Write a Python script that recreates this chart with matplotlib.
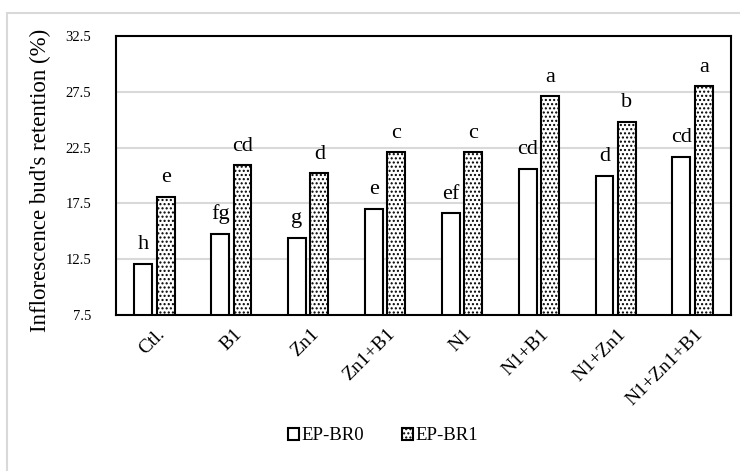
import matplotlib.pyplot as plt
import numpy as np
from matplotlib.patches import Rectangle, Patch

plt.rcParams['font.family'] = ['Liberation Serif', 'DejaVu Serif']
plt.rcParams['hatch.linewidth'] = 1.0

treatments = ['Ctl.', 'B1', 'Zn1', 'Zn1+B1', 'N1', 'N1+B1', 'N1+Zn1', 'N1+Zn1+B1']
br0 = [12.1, 14.8, 14.4, 17.0, 16.6, 20.6, 20.0, 21.7]
br1 = [18.1, 20.9, 20.2, 22.1, 22.1, 27.1, 24.8, 28.0]
br0_letters = ['h', 'fg', 'g', 'e', 'ef', 'cd', 'd', 'cd']
br1_letters = ['e', 'cd', 'd', 'c', 'c', 'a', 'b', 'a']
yticks = [7.5, 12.5, 17.5, 22.5, 27.5, 32.5]

fig = plt.figure(figsize=(7.4, 4.71), dpi=100)
# light grey frame around the chart area
fig.add_artist(Rectangle((7 / 740, -0.01), 1.1, 1 - 13 / 471 + 0.01,
                         transform=fig.transFigure, fill=False,
                         edgecolor='#d9d9d9', linewidth=1.5))

ax = fig.add_axes([116 / 740, 1 - 315 / 471, 615 / 740, 279 / 471])

x = np.arange(len(treatments))
w = 0.234
gap = 0.057
x0 = x - (w + gap) / 2
x1 = x + (w + gap) / 2

base = 7.5
ax.bar(x0, np.array(br0) - base, w, bottom=base, color='white',
       edgecolor='black', linewidth=1.5, zorder=3)
ax.bar(x1, np.array(br1) - base, w, bottom=base, color='white',
       edgecolor='black', linewidth=1.5, hatch='....', zorder=3)

for xi, v, t in zip(x0, br0, br0_letters):
    ax.text(xi, v + 1.3, t, ha='center', va='baseline', fontsize=16)
for xi, v, t in zip(x1, br1, br1_letters):
    ax.text(xi, v + 1.3, t, ha='center', va='baseline', fontsize=16)

ax.set_ylim(7.5, 32.5)
ax.set_xlim(-0.5, len(treatments) - 0.5)
ax.set_yticks(yticks)
ax.set_yticklabels([str(t) for t in yticks], fontsize=10.5)
# labels sit slightly right of group centre, as in the original
ax.set_xticks(x + 0.1)
ax.set_xticklabels(treatments, rotation=45, ha='right', va='center',
                   rotation_mode='anchor', fontsize=14)
ax.tick_params(length=0)
ax.tick_params(axis='y', pad=18)
ax.tick_params(axis='x', pad=12)
ax.yaxis.grid(True, color='#d9d9d9', linewidth=1.5, zorder=0)
ax.set_axisbelow(True)
for s in ax.spines.values():
    s.set_linewidth(1.5)
    s.set_color('black')

fig.text(40 / 740, 1 - 180 / 471, "Inflorescence bud's retention (%)",
         rotation=90, ha='center', va='center', fontsize=16.5)

handles = [Patch(facecolor='white', edgecolor='black', linewidth=1.5),
           Patch(facecolor='white', edgecolor='black', linewidth=1.5, hatch='....')]
fig.legend(handles, ['EP-BR0', 'EP-BR1'], loc='center',
           bbox_to_anchor=(383 / 740, 1 - 436 / 471), ncol=2, frameon=False,
           fontsize=13.5, handlelength=0.6, handleheight=0.6, handletextpad=0.15,
           columnspacing=2.0)

fig.savefig('out.png', dpi=100)
